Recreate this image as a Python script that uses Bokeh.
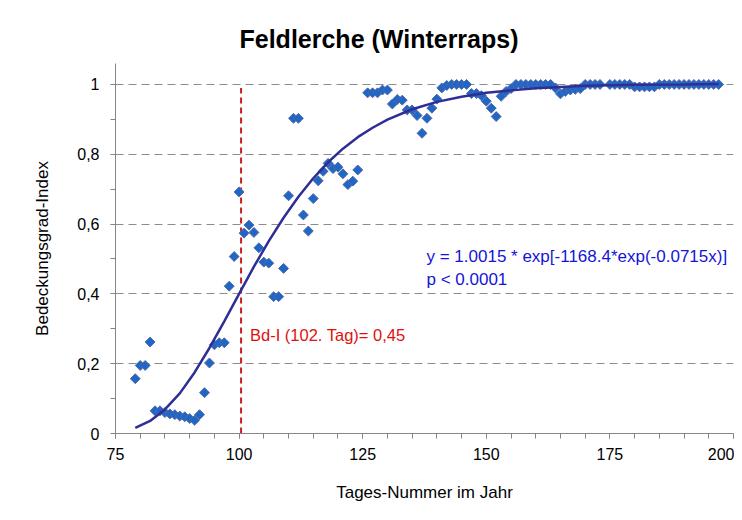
import math
from bokeh.plotting import figure
from bokeh.models import FixedTicker, Range1d, CustomJSTickFormatter, ColumnDataSource
from bokeh.core.properties import value
from bokeh.embed import file_html
from bokeh.resources import INLINE

# ---------------- data ----------------
title_text = "Feldlerche (Winterraps)"
x_label = "Tages-Nummer im Jahr"
y_label = "Bedeckungsgrad-Index"

days = list(range(79, 125)) + list(range(126, 174)) + list(range(175, 198))
bdi = [
    0.157, 0.195, 0.195, 0.262, 0.065, 0.065, 0.060, 0.056, 0.054, 0.050,   # 79-88
    0.048, 0.043, 0.038, 0.054, 0.117, 0.202, 0.254, 0.260, 0.260, 0.422,   # 89-98
    0.507, 0.692, 0.574, 0.597, 0.576, 0.532, 0.491, 0.488, 0.392, 0.392,   # 99-108
    0.473, 0.681, 0.903, 0.903, 0.626, 0.580, 0.673, 0.724, 0.751, 0.774,   # 109-118
    0.759, 0.763, 0.744, 0.713, 0.723, 0.755,                               # 119-124
    0.976, 0.976, 0.976, 0.984, 0.984, 0.944, 0.957, 0.955, 0.927, 0.927,   # 126-135
    0.911, 0.860, 0.903, 0.932, 0.958, 0.990, 0.997, 1.000, 1.000, 1.000,   # 136-145
    1.000, 0.974, 0.974, 0.968, 0.952, 0.932, 0.908, 0.966, 0.980, 0.988,   # 146-155
    1.000, 1.000, 1.000, 1.000, 1.000, 1.000, 1.000, 1.000, 0.990, 0.973,   # 156-165
    0.980, 0.984, 0.986, 0.988, 1.000, 1.000, 1.000, 1.000,                 # 166-173
    1.000, 1.000, 1.000, 1.000, 1.000, 0.993, 0.993, 0.993, 0.993, 0.993,   # 175-184
    1.000, 1.000, 1.000, 1.000, 1.000, 1.000, 1.000, 1.000, 1.000, 1.000,   # 185-194
    1.000, 1.000, 1.000,                                                    # 195-197
]

fit_days = [79, 82, 85, 88, 91, 94, 97, 100, 103, 106, 109, 112, 115, 118, 121,
            124, 127, 130, 135, 140, 145, 150, 155, 160, 165, 170, 180, 190, 197]
fit_vals = [0.016, 0.036, 0.069, 0.115, 0.175, 0.245, 0.321, 0.400, 0.478, 0.551,
            0.618, 0.678, 0.731, 0.777, 0.816, 0.849, 0.876, 0.899, 0.929, 0.950,
            0.965, 0.976, 0.983, 0.989, 0.993, 0.996, 0.999, 1.000, 1.001]

marker_day = [100.4]
marker_from = [0.0]
marker_to = [0.99]

x_major = [75, 100, 125, 150, 175, 200]
x_minor = list(range(75, 201, 5))
y_major = [0, 0.2, 0.4, 0.6, 0.8, 1.0]
y_minor = [0.1, 0.2, 0.3, 0.4, 0.5, 0.6, 0.7, 0.8, 0.9, 1.0]
grid_lines = [0.2, 0.4, 0.6, 0.8, 1.0]

eq_lines = ["y = 1.0015 * exp[-1168.4*exp(-0.0715x)]", "p < 0.0001"]
eq_x = [137.9, 137.9]
eq_y = [0.506, 0.44]

note_text = ["Bd-I (102. Tag)= 0,45"]
note_x = [102.2]
note_y = [0.283]

# ---------------- figure ----------------
p = figure(width=734, height=504, output_backend="svg", toolbar_location=None,
           x_range=Range1d(75, 200), y_range=Range1d(0, 1.06),
           min_border_left=115, min_border_right=1, min_border_top=63,
           min_border_bottom=70)
p.outline_line_color = None
p.background_fill_color = "white"
p.border_fill_color = "white"

p.title.text = title_text
p.title.text_font = "Liberation Sans"
p.title.text_font_size = "25px"
p.title.text_font_style = "bold"
p.title.text_color = "black"
p.title.align = "left"
p.title.offset = 124
p.title.standoff = 22

axis_col = "#868686"
for ax in (p.xaxis[0], p.yaxis[0]):
    ax.axis_line_color = axis_col
    ax.major_tick_line_color = axis_col
    ax.minor_tick_line_color = axis_col
    ax.major_tick_in = 0
    ax.major_tick_out = 5
    ax.minor_tick_in = 0
    ax.minor_tick_out = 5
    ax.major_label_text_font = "Liberation Sans"
    ax.major_label_text_font_size = "16px"
    ax.major_label_text_color = "black"
    ax.axis_label_text_font = "Liberation Sans"
    ax.axis_label_text_font_size = "17px"
    ax.axis_label_text_font_style = "normal"
    ax.axis_label_text_color = "black"

p.xaxis[0].ticker = FixedTicker(ticks=x_major, minor_ticks=x_minor)
p.xaxis[0].axis_label = x_label
p.xaxis[0].major_label_standoff = 9
p.xaxis[0].axis_label_standoff = 20

p.yaxis[0].ticker = FixedTicker(ticks=y_major, minor_ticks=y_minor)
p.yaxis[0].formatter = CustomJSTickFormatter(
    code="var s = (Math.round(tick*10)/10).toString(); return s.replace('.', ',');")
p.yaxis[0].axis_label = y_label
p.yaxis[0].major_label_standoff = 11
p.yaxis[0].axis_label_standoff = 22

p.xgrid.visible = False
p.ygrid.ticker = FixedTicker(ticks=grid_lines)
p.ygrid.grid_line_color = "#8c8c8c"
p.ygrid.grid_line_dash = "8 5"
p.ygrid.grid_line_width = 1

# vertical red dashed marker
p.segment(x0=marker_day, y0=marker_from, x1=marker_day, y1=marker_to,
          line_color="#C81E1E", line_width=2, line_dash="6 4")

# observations (diamonds)
src = ColumnDataSource(dict(x=days, y=bdi))
p.scatter("x", "y", source=src, marker="square", size=7, angle=math.pi / 4,
          fill_color="#1F66C9", line_color="#5468A0", line_width=1)

# fitted curve
p.line(fit_days, fit_vals, line_color="#2E2E96", line_width=2.5)

# equation text
p.text(x=eq_x, y=eq_y, text=eq_lines, text_font=value("Liberation Sans"),
       text_font_size="17px", text_color="#1414D8", text_baseline="middle",
       text_align="left")

# red note
p.text(x=note_x, y=note_y, text=note_text, text_font=value("Liberation Sans"),
       text_font_size="16.5px", text_color="#E01010", text_baseline="middle",
       text_align="left")

open("out.html", "w").write(file_html(p, INLINE))
